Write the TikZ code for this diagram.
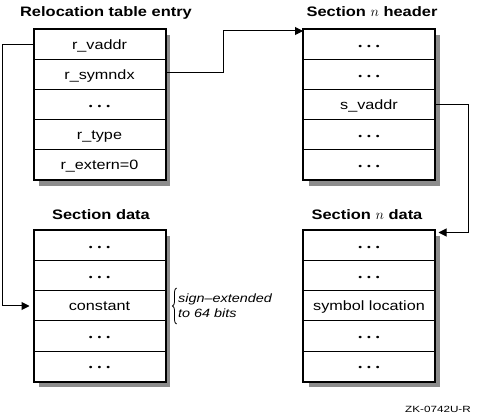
\documentclass[tikz,border=0pt]{standalone}
\usepackage{fontspec}
\setmainfont[FakeStretch=1.2]{Liberation Sans}
\newfontfamily\zkfont[FakeStretch=1.3]{Liberation Sans}
\usetikzlibrary{arrows.meta,decorations.pathreplacing}
\newcommand\mydots{{\fontsize{9}{10}\selectfont •\hspace{5pt}•\hspace{5pt}•}}
\definecolor{shadowc}{gray}{0.55}
\begin{document}
\begin{tikzpicture}[x=1pt,y=-1pt,
  row/.style={draw, line width=1pt, fill=white, minimum width=131pt, minimum height=30pt,
    inner sep=0pt, text height=9.7pt, text depth=0pt, font=\fontsize{13.5}{15}\selectfont},
  ttl/.style={anchor=base, font=\bfseries\fontsize{13.7}{16}\selectfont},
  outer/.style={line width=2pt},
  shad/.style={fill=shadowc},
  conn/.style={line width=1pt, -{Triangle[length=8pt,width=8pt]}}]
\useasboundingbox (0,0) rectangle (480,417);

% shadows
\fill[shad] (39,35) rectangle (170,186);
\fill[shad] (308.5,35) rectangle (439.5,186);
\fill[shad] (39,236) rectangle (170,387);
\fill[shad] (308.5,236) rectangle (439.5,387);

% titles
\node[ttl] (t1) at (106,17) {Relocation table entry};
\node[ttl] (t2) at (372,17) {Section $n$ header};
\node[ttl] (t3) at (101,219.5) {Section data};
\node[ttl] (t4) at (367,219.5) {Section $n$ data};

% relocation table entry
\node[row] (a1) at (99.5,45) {r\_vaddr};
\node[row] (a2) at (99.5,75) {r\_symndx};
\node[row] (a3) at (99.5,105) {\mydots};
\node[row] (a4) at (99.5,135) {r\_type};
\node[row] (a5) at (99.5,165) {r\_extern=0};
\draw[outer] (a1.north west) rectangle (a5.south east);

% section n header
\node[row] (h1) at (369,45) {\mydots};
\node[row] (h2) at (369,75) {\mydots};
\node[row] (h3) at (369,105) {s\_vaddr};
\node[row] (h4) at (369,135) {\mydots};
\node[row] (h5) at (369,165) {\mydots};
\draw[outer] (h1.north west) rectangle (h5.south east);

% section data
\node[row] (d1) at (99.5,246) {\mydots};
\node[row] (d2) at (99.5,276) {\mydots};
\node[row] (d3) at (99.5,306) {constant};
\node[row] (d4) at (99.5,336) {\mydots};
\node[row] (d5) at (99.5,366) {\mydots};
\draw[outer] (d1.north west) rectangle (d5.south east);

% section n data
\node[row] (n1) at (369,246) {\mydots};
\node[row] (n2) at (369,276) {\mydots};
\node[row] (n3) at (369,306) {symbol location};
\node[row] (n4) at (369,336) {\mydots};
\node[row] (n5) at (369,366) {\mydots};
\draw[outer] (n1.north west) rectangle (n5.south east);

% connectors
\draw[conn, shorten >=4pt] (a1.west) -- ++(-31,0) |- (d3.west);
\draw[conn] ([yshift=2pt]a2.east) -- ++(58,0) |- ([yshift=-1.5pt]h1.north west);
\draw[conn] (h3.east) -- ++(33,0) |- ([xshift=3.5pt,yshift=-2pt]n1.north east);

% brace and note
\draw[line width=0.8pt, decorate, decoration={brace, amplitude=4pt}] (176.5,324) -- (176.5,288);
\node[anchor=base west, inner sep=0pt, font=\itshape\fontsize{12}{15}\selectfont] (s1) at (178,303) {sign–extended};
\node[anchor=base west, inner sep=0pt, font=\itshape\fontsize{12}{15}\selectfont] (s2) at (178,318) {to 64 bits};

% figure id
\node[anchor=base, inner sep=0pt, font=\zkfont\fontsize{9}{10}\selectfont] (zk) at (438,412.5) {ZK-0742U-R};
\end{tikzpicture}
\end{document}
